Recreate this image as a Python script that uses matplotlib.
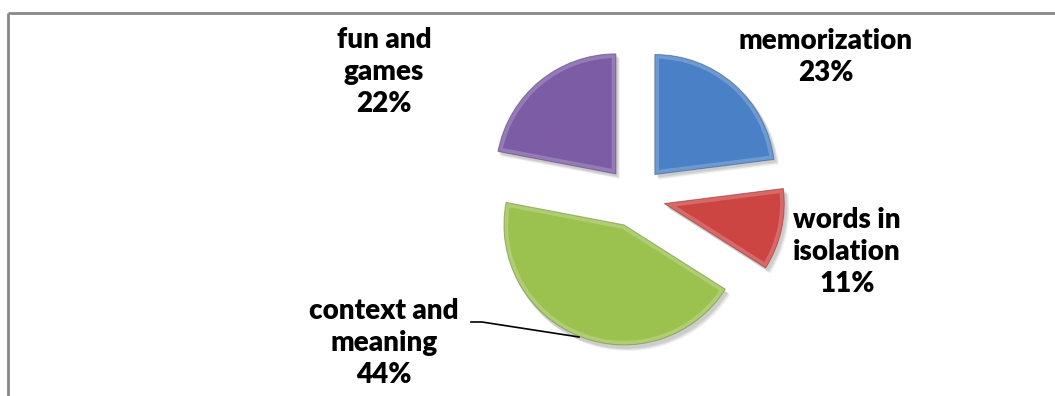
import matplotlib
matplotlib.use("Agg")
import matplotlib.pyplot as plt
from matplotlib.patches import Wedge
from matplotlib.lines import Line2D
import matplotlib.colors as mcolors

# Survey shares of vocabulary-learning approaches
categories = ["memorization", "words in\nisolation", "context and\nmeaning", "fun and\ngames"]
shares = [23, 11, 44, 22]
slice_colors = ["#4A80C6", "#CD4543", "#9BC14F", "#7C5CA5"]

W, H = 1055, 396
fig = plt.figure(figsize=(W / 100, H / 100), dpi=100)
ax = fig.add_axes([0, 0, 1, 1])

center = (635, H - 197)
radius = 120
# pie() offsets exploded slices in data units
explode = [30] * len(shares)

# soft drop shadow underneath the slices
for dx, dy, a in [(4, -5, 0.06), (3, -4, 0.07), (2, -3, 0.08)]:
    sh, _ = ax.pie(shares, explode=explode, center=(center[0] + dx, center[1] + dy),
                   radius=radius + 1, startangle=90, counterclock=False,
                   colors=["black"] * len(shares), frame=False)
    for w in sh:
        w.set_alpha(a)
        w.set_linewidth(0)
        w.set_zorder(1)

wedges, _ = ax.pie(shares, explode=explode, center=center, radius=radius,
                   startangle=90, counterclock=False, colors=slice_colors,
                   frame=False,
                   wedgeprops=dict(linewidth=0, zorder=2))

# bevelled rim: light inner band plus a darker outline
for w, c in zip(wedges, slice_colors):
    rgb = mcolors.to_rgb(c)
    light = tuple(min(1, v + (1 - v) * 0.45) for v in rgb)
    dark = tuple(v * 0.7 for v in rgb)
    band = Wedge(w.center, w.r, w.theta1, w.theta2, facecolor="none",
                 edgecolor=light, linewidth=6, alpha=0.45, zorder=3)
    ax.add_patch(band)
    band.set_clip_path(w)
    rim = Wedge(w.center, w.r, w.theta1, w.theta2, facecolor="none",
                edgecolor=dark, linewidth=0.8, alpha=0.5, zorder=4)
    ax.add_patch(rim)

ax.set_xlim(0, W)
ax.set_ylim(0, H)
ax.set_aspect("auto")
ax.axis("off")

label_pos = [(826, H - 57), (847, H - 252), (384, H - 343), (384, H - 72)]
font = dict(family=["Lato", "DejaVu Sans"], fontsize=20, fontweight="heavy",
            color="black", ha="center", va="center", linespacing=1.28, zorder=6)
for name, v, (x, y) in zip(categories, shares, label_pos):
    ax.text(x, y, f"{name}\n{v}%", **font)

# leader line for the large slice
ax.plot([471, 482, 579], [H - 322, H - 322, H - 337], color="black", lw=1.2, zorder=5)

# chart frame (top and left edges)
fig.add_artist(Line2D([8 / W, 1], [1 - 12.5 / H, 1 - 12.5 / H], color="#878787", lw=2.0,
                      transform=fig.transFigure, solid_capstyle="butt"))
fig.add_artist(Line2D([8 / W, 8 / W], [0, 1 - 12.5 / H], color="#878787", lw=2.0,
                      transform=fig.transFigure, solid_capstyle="butt"))

fig.savefig("out.png", dpi=100, facecolor="white")
